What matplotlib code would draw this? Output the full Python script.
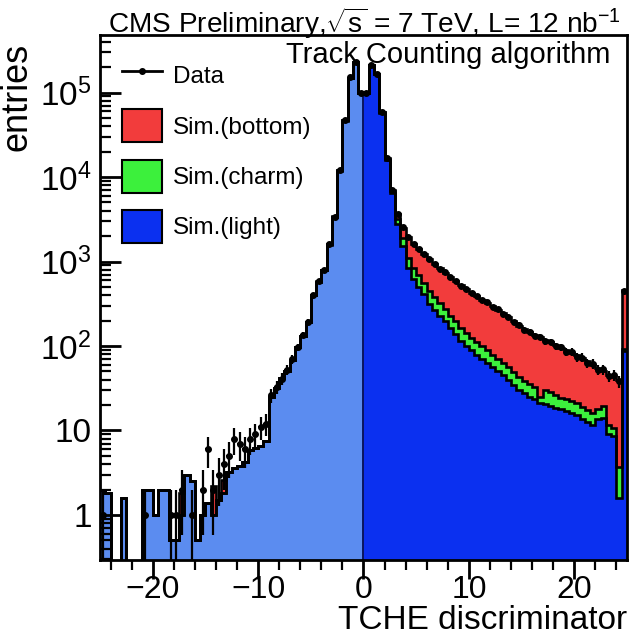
import numpy as np
import matplotlib
matplotlib.use("Agg")
import matplotlib.pyplot as plt
from matplotlib.lines import Line2D
from matplotlib.patches import Patch
from matplotlib.ticker import FixedLocator, FuncFormatter, MultipleLocator, LogLocator, NullFormatter

plt.rcParams['font.family'] = ['Liberation Sans', 'DejaVu Sans']
plt.rcParams['mathtext.fontset'] = 'custom'
plt.rcParams['mathtext.rm'] = 'Liberation Sans'
plt.rcParams['mathtext.it'] = 'Liberation Sans:italic'
plt.rcParams['mathtext.bf'] = 'Liberation Sans:bold'

# ---- binning: 100 bins of 0.5 between -25 and 25 ----
x_lo, x_hi, n_bins = -25.0, 25.0, 100
edges = np.linspace(x_lo, x_hi, n_bins + 1)
centers = 0.5 * (edges[:-1] + edges[1:])

# ---- simulated light-flavour jets (per bin) ----
sim_light = [
    2.0, 1.8, 0, 0, 1.6, 0, 0, 0, 2.0, 2.0,
    1.0, 2.0, 2.0, 0.5, 0.5, 1.0, 3.0, 2.5, 0.5, 1.0,
    1.4, 1.0, 1.5, 1.8, 3.2, 3.6, 3.8, 4.2, 5.8, 6.2,
    6.6, 7.5, 25, 32, 42, 50, 69, 98, 132, 190,
    398, 575, 794, 1585, 3370, 11900, 46500, 150000, 228000, 99500,
    99800, 212000, 164000, 58000, 16000, 6457, 2818, 1514, 832, 617,
    501, 407, 316, 269, 229, 195, 162, 138, 115, 100,
    89, 79, 71, 63, 56, 50, 45, 40, 35, 30,
    27.5, 25.1, 23.4, 21.4, 20.4, 19.5, 18.6, 17.8, 17.0, 16.2,
    15.1, 13.8, 12.6, 11.7, 13.5, 14.1, 9.1, 8.7, 1.6, 87,
]

# ---- simulated charm jets ----
sim_charm = [
    0, 0, 0, 0, 0, 0, 0, 0, 0, 0,
    0, 0, 0, 0, 0, 0, 0, 0, 0, 0,
    0, 0, 0, 0, 0, 0, 0, 0, 0, 0,
    0, 0, 0, 0, 0, 0, 0, 0, 0, 0,
    1, 2, 4, 8, 30, 80, 200, 300, 300, 150,
    150, 500, 600, 500, 350, 304, 344, 391, 264, 215,
    191, 155, 131, 111, 95, 80, 67, 57, 47, 41,
    37, 33, 29, 26, 23, 21, 18, 16, 14, 13,
    11.5, 10.4, 9.7, 3.7, 9.8, 8.7, 7.7, 6.7, 6.4, 6.2,
    5.8, 5.3, 4.8, 4.5, 4.7, 5.4, 2.4, 2.0, 2.1, 6,
]

# ---- simulated bottom jets ----
sim_bottom = [
    0, 0, 0, 0, 0, 0, 0, 0, 0, 0,
    0, 0, 0, 0, 0, 0.8, 0, 0, 0, 0,
    0, 1.2, 0, 0.8, 0, 0, 0, 0, 0, 0,
    0, 0, 0, 0, 0, 0, 0, 0, 0, 0,
    3, 4, 6, 10, 20, 40, 80, 120, 150, 60,
    50, 300, 400, 400, 300, 318, 469, 607, 854, 790,
    721, 668, 625, 553, 508, 466, 432, 394, 363, 327,
    301, 277, 255, 235, 216, 198, 182, 163, 146, 131,
    119, 109, 102, 101, 87, 82, 76, 71, 66, 61,
    57, 53, 49, 44, 37, 31, 34, 32, 36, 364,
]

# ---- data counts ----
data_counts = [
    1, 0, 0, 0, 0, 0, 0, 0, 1, 0,
    0, 0, 0, 1, 1, 2, 0, 1, 0, 2,
    6, 2, 3, 4, 5, 8, 7, 6, 8, 9,
    11, 12, 26, 33, 41, 52, 70, 97, 136, 193,
    405, 585, 800, 1600, 3400, 12100, 46900, 151000, 229000, 99700,
    100100, 212500, 165200, 58700, 16700, 7050, 3610, 2530, 1940, 1630,
    1400, 1240, 1065, 940, 826, 748, 655, 595, 520, 472,
    423, 392, 350, 328, 290, 272, 240, 222, 192, 178,
    155, 148, 131, 129, 114, 112, 99, 97, 86, 85,
    74, 73, 63, 62, 52, 53, 44, 45, 38, 450,
]

labels = ["Data", "Sim.(bottom)", "Sim.(charm)", "Sim.(light)"]

col_light = '#0b30f0'
col_light_neg = '#5b8cf0'
col_charm = '#3cf03c'
col_bottom = '#f23c3c'
edge_col = 'black'

light = np.array(sim_light, float)
charm = np.array(sim_charm, float)
bottom = np.array(sim_bottom, float)
data = np.array(data_counts, float)

floor = 1e-3
s1 = np.maximum(light, floor)
s2 = np.maximum(light + charm, floor)
s3 = np.maximum(light + charm + bottom, floor)

fig = plt.figure(figsize=(6.35, 6.39), dpi=100)
ax = fig.add_axes([100 / 635, 1 - 560 / 639, 527 / 635, 525 / 639])
ax.set_yscale('log')

izero = int(np.searchsorted(edges, 0.0))

# filled stack
ax.stairs(s1[:izero], edges[:izero + 1], baseline=floor, fill=True,
          color=col_light_neg, lw=0, zorder=1)
ax.stairs(s1[izero:], edges[izero:], baseline=floor, fill=True,
          color=col_light, lw=0, zorder=1)
ax.stairs(s2, edges, baseline=s1, fill=True, color=col_charm, lw=0, zorder=1)
ax.stairs(s3, edges, baseline=s2, fill=True, color=col_bottom, lw=0, zorder=1)

# boundary between the two halves of the light fill
ax.vlines(edges[izero], floor, min(s1[izero - 1], s1[izero]),
          color='#0a1660', lw=1.4, zorder=2)

# outlines of every stacked layer
for s in (s1, s2, s3):
    ax.stairs(s, edges, baseline=None, color=edge_col, lw=1.9, zorder=3)

# data points with Poisson errors
m = data > 0
d = data[m]
err_hi = np.sqrt(d)
err_lo = np.minimum(np.sqrt(d), d - floor)
ax.errorbar(centers[m], d, xerr=0.25, yerr=[err_lo, err_hi], fmt='o',
            ms=4, color='black', elinewidth=1.6, capsize=0, zorder=5)

ax.set_xlim(x_lo, x_hi)
ax.set_ylim(0.293, 4.8e5)

# axes styling
for sp in ax.spines.values():
    sp.set_linewidth(2.0)

ax.xaxis.set_major_locator(FixedLocator([-20, -10, 0, 10, 20]))
ax.xaxis.set_minor_locator(MultipleLocator(2))
ax.tick_params(axis='x', which='major', direction='out', length=14, width=2,
               labelsize=23, pad=-3, top=False)
ax.tick_params(axis='x', which='minor', direction='out', length=7, width=1.6, top=False)


def ylab(v, pos):
    if v < 0.99:
        return ''
    e = int(round(np.log10(v)))
    if abs(v - 10 ** e) > 1e-6 * v:
        return ''
    if e == 0:
        return '1'
    if e == 1:
        return '10'
    return r'$10^{%d}$' % e


ax.yaxis.set_major_locator(FixedLocator([1, 10, 1e2, 1e3, 1e4, 1e5]))
ax.yaxis.set_major_formatter(FuncFormatter(ylab))
ax.yaxis.set_minor_locator(LogLocator(base=10, subs=np.arange(2, 10), numticks=20))
ax.yaxis.set_minor_formatter(NullFormatter())
ax.tick_params(axis='y', which='major', direction='in', length=15, width=2,
               labelsize=24, pad=6, right=False)
ax.tick_params(axis='y', which='minor', direction='in', length=8, width=1.6, right=False)

ax.set_xlabel("TCHE discriminator", fontsize=24, loc='right')
ax.xaxis.set_label_coords(1.0, -0.086)
ax.set_ylabel("entries", fontsize=26, loc='top')
ax.yaxis.set_label_coords(-0.125, 0.985)

# titles
fig.text(108 / 635, 1 - 33 / 639,
         r"CMS Preliminary,$\sqrt{\mathrm{s}}$ = 7 TeV, L= 12 nb$^{-1}$",
         fontsize=20.2, ha='left', va='baseline')
ax.text(0.968, (560 - 63) / 525, "Track Counting algorithm", transform=ax.transAxes,
        fontsize=21, ha='right', va='baseline', zorder=10)

# legend
handles = [
    Line2D([], [], color='black', lw=2, marker='o', ms=4),
    Patch(facecolor=col_bottom, edgecolor='black', lw=1.5),
    Patch(facecolor=col_charm, edgecolor='black', lw=1.5),
    Patch(facecolor=col_light, edgecolor='black', lw=1.5),
]
leg = ax.legend(handles, labels, loc='upper left', bbox_to_anchor=(0.042, 0.954),
                frameon=False, fontsize=17.5, handlelength=1.65, handleheight=1.7,
                handletextpad=0.45, labelspacing=0.72, borderpad=0, borderaxespad=0)
leg.set_zorder(10)

fig.savefig("out.png", dpi=100)
